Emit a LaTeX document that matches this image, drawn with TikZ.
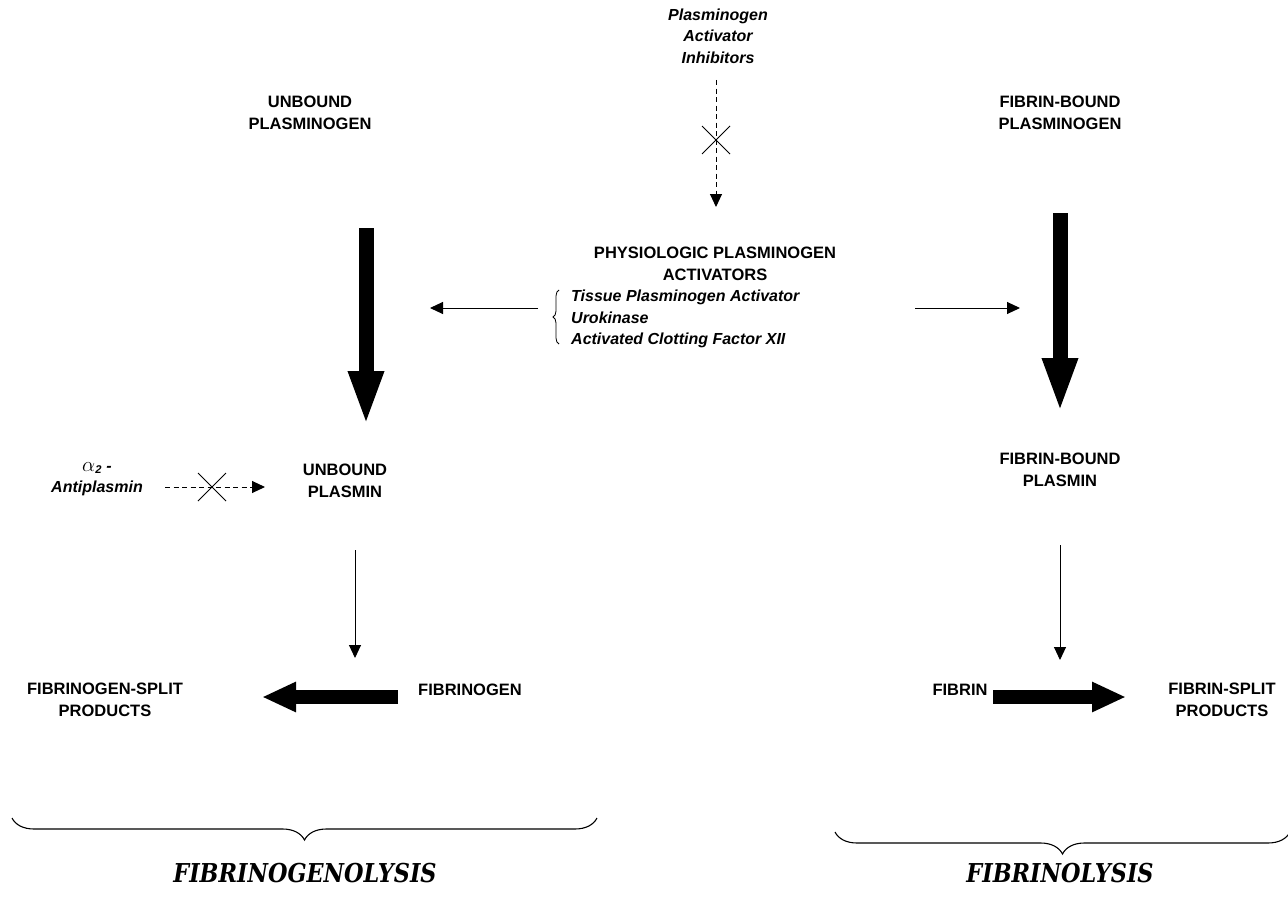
\documentclass[tikz,border=0pt]{standalone}
\usepackage{fontspec}
\setmainfont{Liberation Sans}
\newfontfamily\slab[FakeStretch=0.86]{DejaVu Serif}
\usetikzlibrary{arrows.meta,shapes.misc,decorations.pathreplacing}
\begin{document}
\begin{tikzpicture}[x=1pt,y=-1pt,
  lbl/.style={font=\bfseries\fontsize{16.5}{22.5}\selectfont, align=center, inner sep=0pt},
  ilbl/.style={font=\bfseries\itshape\fontsize{16}{21.5}\selectfont, align=center, inner sep=0pt},
  title/.style={font=\slab\bfseries\itshape\fontsize{26}{30}\selectfont, inner sep=0pt},
  thin arrow/.style={line width=1pt, -{Triangle[length=13pt,width=12pt]}},
  dash arrow/.style={line width=1pt, dashed, dash pattern=on 5pt off 3.5pt, -{Triangle[length=13pt,width=12pt]}},
  fat arrow v/.style={line width=15pt, -{Triangle[length=55pt,width=32pt]}},
  fat arrow h/.style={line width=14pt, -{Triangle[length=34pt,width=28pt]}},
  block/.style={cross out, draw, line width=1pt, minimum size=27pt, inner sep=0pt},
  bigbrace/.style={decorate, line width=1.1pt, decoration={brace, amplitude=22pt}}
]
\useasboundingbox (0,0) rectangle (1288,907);

% texts
\node[ilbl] (pai) at (718,36) {Plasminogen\\Activator\\Inhibitors};
\node[lbl] (upg) at (310,113) {UNBOUND\\PLASMINOGEN};
\node[lbl] (fbpg) at (1060,113) {FIBRIN-BOUND\\PLASMINOGEN};
\node[lbl] (ppa) at (715,264) {PHYSIOLOGIC PLASMINOGEN\\ACTIVATORS};
\node[ilbl, align=left, anchor=west] (list) at (571,319)
  {Tissue Plasminogen Activator\\Urokinase\\Activated Clotting Factor XII};
\node[ilbl] (antip) at (97,479) {{\fontsize{21}{21}\selectfont$\alpha$}\textsubscript{\bfseries 2} -\\Antiplasmin};
\node[lbl] (upl) at (345,481) {UNBOUND\\PLASMIN};
\node[lbl] (fbpl) at (1060,470) {FIBRIN-BOUND\\PLASMIN};
\node[lbl] (fsp) at (105,700) {FIBRINOGEN-SPLIT\\PRODUCTS};
\node[lbl] (fgn) at (470,690) {FIBRINOGEN};
\node[lbl] (fib) at (960,690) {FIBRIN};
\node[lbl] (fbsp) at (1222,700) {FIBRIN-SPLIT\\PRODUCTS};
\node[title] (fgl) at (305,873) {FIBRINOGENOLYSIS};
\node[title] (fl) at (1060,873) {FIBRINOLYSIS};

% connector end points
\coordinate (paiS) at (716,80);
\coordinate (paiE) at (716,207);
\coordinate (paiX) at (716,140);
\coordinate (ugS) at (366,228);
\coordinate (ugE) at (366,426);
\coordinate (fgS) at (1060,213);
\coordinate (fgE) at (1060,413);
\coordinate (lS) at (538,308);
\coordinate (lE) at (430,308);
\coordinate (rS) at (915,308);
\coordinate (rE) at (1020,308);
\coordinate (apS) at (165,487);
\coordinate (apE) at (265,487);
\coordinate (apX) at (212,487);
\coordinate (ulS) at (355,550);
\coordinate (ulE) at (355,658);
\coordinate (flS) at (1060,545);
\coordinate (flE) at (1060,660);
\coordinate (fgnS) at (398,697);
\coordinate (fgnE) at (262,697);
\coordinate (fibS) at (993,697);
\coordinate (fibE) at (1126,697);

% connectors
\draw[dash arrow] (paiS) -- (paiE);
\node[block] (x1) at (paiX) {};
\draw[fat arrow v] (ugS) -- (ugE);
\draw[fat arrow v] (fgS) -- (fgE);
\draw[thin arrow] (lS) -- (lE);
\draw[thin arrow] (rS) -- (rE);
\draw[dash arrow] (apS) -- (apE);
\node[block] (x2) at (apX) {};
\draw[thin arrow] (ulS) -- (ulE);
\draw[thin arrow] (flS) -- (flE);
\draw[fat arrow h] (fgnS) -- (fgnE);
\draw[fat arrow h] (fibS) -- (fibE);

% braces
\draw[decorate, line width=0.8pt, decoration={brace, amplitude=6pt}]
  (559,344) -- (559,290);
\draw[bigbrace] (597,818) -- (12,818);
\draw[bigbrace] (1290,832) -- (835,832);
\end{tikzpicture}
\end{document}
